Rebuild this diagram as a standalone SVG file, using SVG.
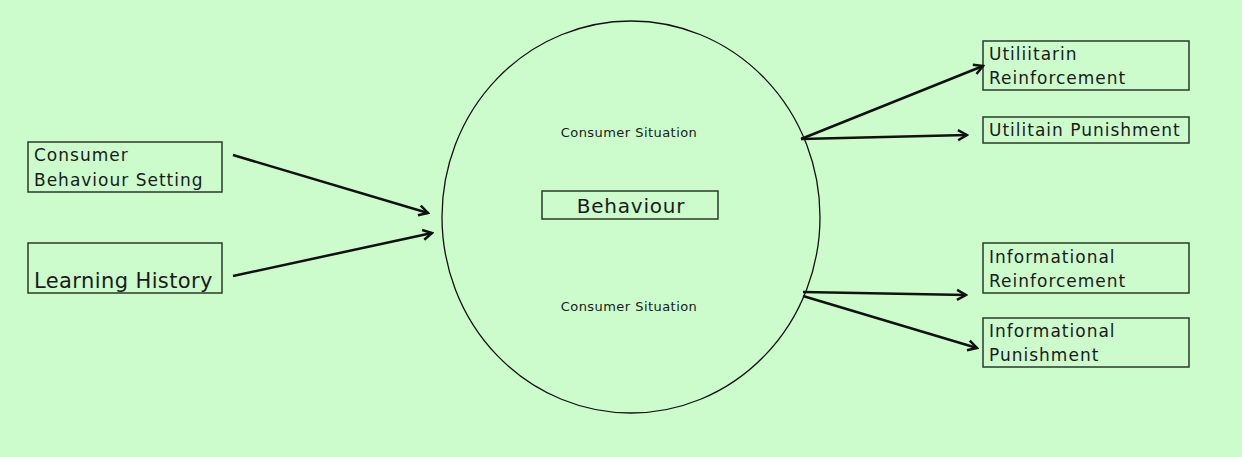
<svg xmlns="http://www.w3.org/2000/svg" width="1242" height="457" viewBox="0 0 1242 457">
<defs>
<marker id="arr" markerWidth="14" markerHeight="14" refX="12" refY="7" orient="auto" markerUnits="userSpaceOnUse">
<polyline points="3,2 12,7 3,12" fill="none" stroke="#111" stroke-width="2.5" stroke-linejoin="miter"/>
</marker>
<style>
.box{fill:none;stroke:#2a3a2a;stroke-width:1.5}
.t{font-family:"DejaVu Sans",Verdana,sans-serif;fill:#1a1a1a}
.m{font-size:17px;letter-spacing:1px}
.l{font-size:21px;letter-spacing:0.4px}
.b{font-size:20px;letter-spacing:0.8px}
.s{font-size:13px;letter-spacing:0.45px}
.c{stroke:#111;stroke-width:2.5;fill:none;marker-end:url(#arr)}
</style>
</defs>
<rect width="1242" height="457" fill="#ccfccc"/>
<g id="situation">
<ellipse cx="631" cy="217" rx="189" ry="196" fill="none" stroke="#111" stroke-width="1.3"/>
<text class="t s" x="629" y="137" text-anchor="middle">Consumer Situation</text>
<text class="t s" x="629" y="311" text-anchor="middle">Consumer Situation</text>
</g>
<g id="behaviour">
<rect class="box" x="542" y="191" width="176" height="28"/>
<text class="t b" x="631" y="213" text-anchor="middle">Behaviour</text>
</g>
<g id="setting">
<rect class="box" x="28" y="142" width="194" height="50"/>
<text class="t m" x="34" y="161">Consumer</text>
<text class="t m" x="34" y="186">Behaviour Setting</text>
</g>
<g id="history">
<rect class="box" x="28" y="243" width="194" height="50"/>
<text class="t l" x="34" y="288">Learning History</text>
</g>
<g id="util-reinf">
<rect class="box" x="983" y="41" width="206" height="49"/>
<text class="t m" x="989" y="60">Utiliitarin</text>
<text class="t m" x="989" y="84">Reinforcement</text>
</g>
<g id="util-pun">
<rect class="box" x="983" y="117" width="206" height="26"/>
<text class="t m" x="989" y="136">Utilitain Punishment</text>
</g>
<g id="info-reinf">
<rect class="box" x="983" y="243" width="206" height="50"/>
<text class="t m" x="989" y="263">Informational</text>
<text class="t m" x="989" y="287">Reinforcement</text>
</g>
<g id="info-pun">
<rect class="box" x="983" y="318" width="206" height="49"/>
<text class="t m" x="989" y="337">Informational</text>
<text class="t m" x="989" y="361">Punishment</text>
</g>
<g id="connectors">
<line class="c" x1="233" y1="155" x2="428" y2="213"/>
<line class="c" x1="233" y1="276" x2="432" y2="233"/>
<line class="c" x1="801" y1="139" x2="983" y2="66"/>
<line class="c" x1="801" y1="139" x2="967" y2="135"/>
<line class="c" x1="803" y1="292" x2="966" y2="295"/>
<line class="c" x1="803" y1="296" x2="977" y2="348"/>
</g>
</svg>
